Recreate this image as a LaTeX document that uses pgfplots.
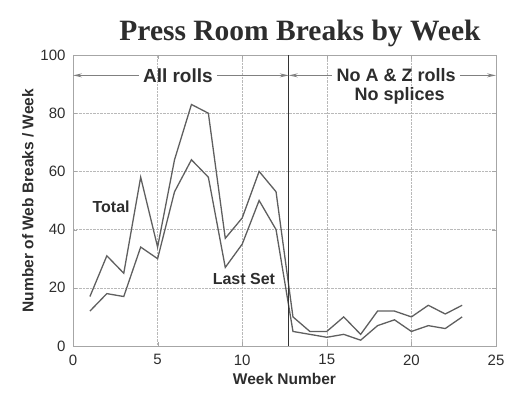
\documentclass[border=0pt]{standalone}
\usepackage{pgfplots}
\pgfplotsset{compat=1.18}
\usepackage{fontspec}
\setmainfont{Liberation Sans}
\newfontfamily\titlefont{Liberation Serif}
\usetikzlibrary{arrows.meta}
\definecolor{linegray}{RGB}{95,95,95}
\definecolor{txtgray}{RGB}{45,45,45}
\begin{document}
\begin{tikzpicture}
\path[use as bounding box] (-73pt,-48pt) rectangle (456pt,346pt);
\begin{axis}[
  at={(0pt,0pt)}, anchor=south west,
  width=423pt, height=291pt, scale only axis,
  xmin=0, xmax=25, ymin=0, ymax=100,
  xtick={0,5,...,25}, ytick={0,20,...,100},
  grid=major,
  major grid style={densely dotted, gray!55},
  tick align=inside, tick style={gray!70},
  axis line style={gray!70},
  /pgf/number format/assume math mode=true,
  ticklabel style={font=\fontsize{15}{15}\selectfont, text=txtgray},
  xticklabel style={yshift=-5pt},
  yticklabel style={xshift=-4pt},
  xlabel={\bfseries Week Number},
  ylabel={\bfseries Number of Web Breaks / Week},
  label style={font=\fontsize{15.5}{15.5}\selectfont, text=txtgray},
  xlabel style={yshift=-1pt},
  ylabel style={yshift=0pt},
]
\addplot[linegray, line width=1.3pt] coordinates {
(1,17) (2,31) (3,25) (4,58) (5,34) (6,64) (7,83) (8,80) (9,37) (10,44) (11,60) (12,53)
(13,10) (14,5) (15,5) (16,10) (17,4) (18,12) (19,12) (20,10) (21,14) (22,11) (23,14)};
\addplot[linegray, line width=1.3pt] coordinates {
(1,12) (2,18) (3,17) (4,34) (5,30) (6,53) (7,64) (8,58) (9,27) (10,35) (11,50) (12,40)
(13,5) (14,4) (15,3) (16,4) (17,2) (18,7) (19,9) (20,5) (21,7) (22,6) (23,10)};
\addplot[black!80, line width=1.3pt] coordinates {(12.75,0) (12.75,100)};
% arrows
\draw[gray, line width=0.8pt, -{Stealth[length=9pt,width=4pt,open]}] (axis cs:3.9,93) -- (axis cs:0,93);
\draw[gray, line width=0.8pt, -{Stealth[length=9pt,width=4pt,open]}] (axis cs:8.5,93) -- (axis cs:12.75,93);
\draw[gray, line width=0.8pt, -{Stealth[length=9pt,width=4pt,open]}] (axis cs:15.3,93) -- (axis cs:12.75,93);
\draw[gray, line width=0.8pt, -{Stealth[length=9pt,width=4pt,open]}] (axis cs:22.9,93) -- (axis cs:25,93);
\node[font=\fontsize{19}{19}\selectfont\bfseries, text=txtgray] at (axis cs:6.2,93) {All rolls};
\node[font=\fontsize{18}{18}\selectfont\bfseries, text=txtgray, inner sep=0pt] at (axis cs:19.1,93) {No A \& Z rolls};
\node[font=\fontsize{18}{18}\selectfont\bfseries, text=txtgray, inner sep=0pt] at (axis cs:19.3,86) {No splices};
\node[font=\fontsize{16}{16}\selectfont\bfseries, text=txtgray] at (axis cs:2.25,48) {Total};
\node[font=\fontsize{16}{16}\selectfont\bfseries, text=txtgray] at (axis cs:10.1,23) {Last Set};
\end{axis}
\node[font=\fontsize{29.5}{29.5}\selectfont\titlefont\bfseries, text=txtgray] at (227pt,313pt) {Press Room Breaks by Week};
\end{tikzpicture}
\end{document}
